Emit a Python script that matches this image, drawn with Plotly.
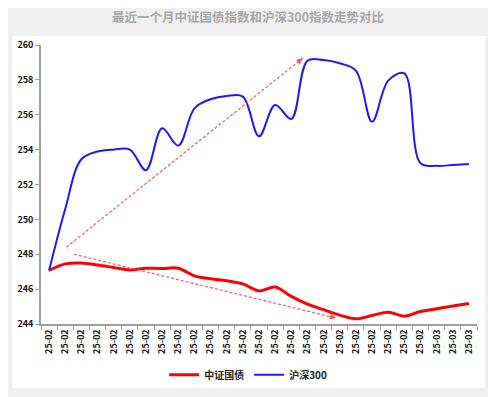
import plotly.graph_objects as go

title_text = "最近一个月中证国债指数和沪深300指数走势对比"
tick_labels = ["25-02"] * 24 + ["25-03"] * 3
bond_name = "中证国债"
hs_name = "沪深300"
bond_values = [247.07, 247.45, 247.5, 247.38, 247.24, 247.1, 247.2, 247.18, 247.2,
               246.76, 246.59, 246.48, 246.3, 245.9, 246.12, 245.58, 245.14, 244.82,
               244.51, 244.3, 244.49, 244.68, 244.45, 244.72, 244.87, 245.03, 245.17]
hs_values = [247.07, 250.6, 253.45, 253.89, 254.0, 254.0, 252.82, 255.22, 254.23,
             256.37, 256.89, 257.08, 257.04, 254.76, 256.56, 255.76, 259.1, 259.14,
             258.95, 258.53, 255.6, 257.96, 258.37, 253.22, 253.07, 253.12, 253.18]
# trend arrows: (x_start, y_start, x_end, y_end) in data units
arrows = [(1.07, 248.41, 15.7, 259.24), (1.54, 248.0, 17.76, 244.34)]

x_idx = list(range(len(tick_labels)))
font_fam = "Noto Sans CJK SC, Noto Sans, sans-serif"

# figure is placed 8px in from the page corner (default body margin)
W, H = 488, 389
L, T = 32.7, 37.0
PW, PH = 436.3, 279.3
R = W - L - PW
B = H - T - PH

fig = go.Figure()
fig.add_trace(go.Scatter(x=x_idx, y=bond_values, name=bond_name, mode="lines",
                         line=dict(color="#ff0000", width=3, shape="spline", smoothing=1.0)))
fig.add_trace(go.Scatter(x=x_idx, y=hs_values, name=hs_name, mode="lines",
                         line=dict(color="#1a1aff", width=2, shape="spline", smoothing=1.0)))

arrow_color = "rgba(255,70,70,0.9)"
for (x0, y0, x1, y1) in arrows:
    fig.add_shape(type="line", x0=x0, y0=y0, x1=x1, y1=y1, xref="x", yref="y",
                  line=dict(color=arrow_color, width=1.2, dash="3px,2px"))
    fig.add_annotation(x=x1, y=y1, ax=x1 - (x1 - x0) * 0.03, ay=y1 - (y1 - y0) * 0.03,
                       xref="x", yref="y", axref="x", ayref="y", text="",
                       showarrow=True, arrowhead=2, arrowsize=1.2, arrowwidth=1,
                       arrowcolor=arrow_color, standoff=0)

# white panel
plot_bottom = T + PH
fig.add_shape(type="rect", xref="paper", yref="paper", layer="below",
              x0=(4 - L) / PW, x1=(477 - L) / PW,
              y0=(plot_bottom - 380) / PH, y1=(plot_bottom - 28) / PH,
              fillcolor="white", line=dict(width=0))

fig.update_layout(
    width=W, height=H,
    margin=dict(l=L, r=R, t=T, b=B, autoexpand=False),
    paper_bgcolor="#f0f0f0", plot_bgcolor="white",
    title=dict(text=title_text, x=240 / W, xref="container", xanchor="center",
               y=1 - 9.8 / H, yref="container", yanchor="middle",
               font=dict(family=font_fam, size=12.5, color="#a8a8a8", weight="bold")),
    font=dict(family=font_fam, color="#111111"),
    showlegend=True,
    legend=dict(orientation="h", x=(240 - L) / PW, xanchor="center",
                y=(plot_bottom - 367) / PH, yanchor="middle",
                bgcolor="rgba(0,0,0,0)", font=dict(size=10, weight="bold", color="#222222"),
                itemwidth=30, tracegroupgap=0),
    xaxis=dict(range=[-0.5, 26.5], tickmode="array", tickvals=x_idx, ticktext=tick_labels,
               tickangle=-90, ticks="", showgrid=False, zeroline=False, automargin=False,
               showline=True, linecolor="#a0a0a0", linewidth=1.5,
               tickfont=dict(size=9, weight="bold", color="#111111"),
               minor=dict(tickmode="linear", tick0=-0.5, dtick=1, ticks="outside",
                          ticklen=4, tickcolor="#a0a0a0", tickwidth=1, showgrid=False)),
    yaxis=dict(range=[244, 260], dtick=2, ticks="outside", ticklen=4, tickcolor="#a0a0a0",
               showgrid=False, zeroline=False, showline=True, linecolor="#a0a0a0", linewidth=1.5,
               automargin=False,
               tickfont=dict(size=9, weight="bold", color="#111111")),
)

fig.write_html("out.html")
